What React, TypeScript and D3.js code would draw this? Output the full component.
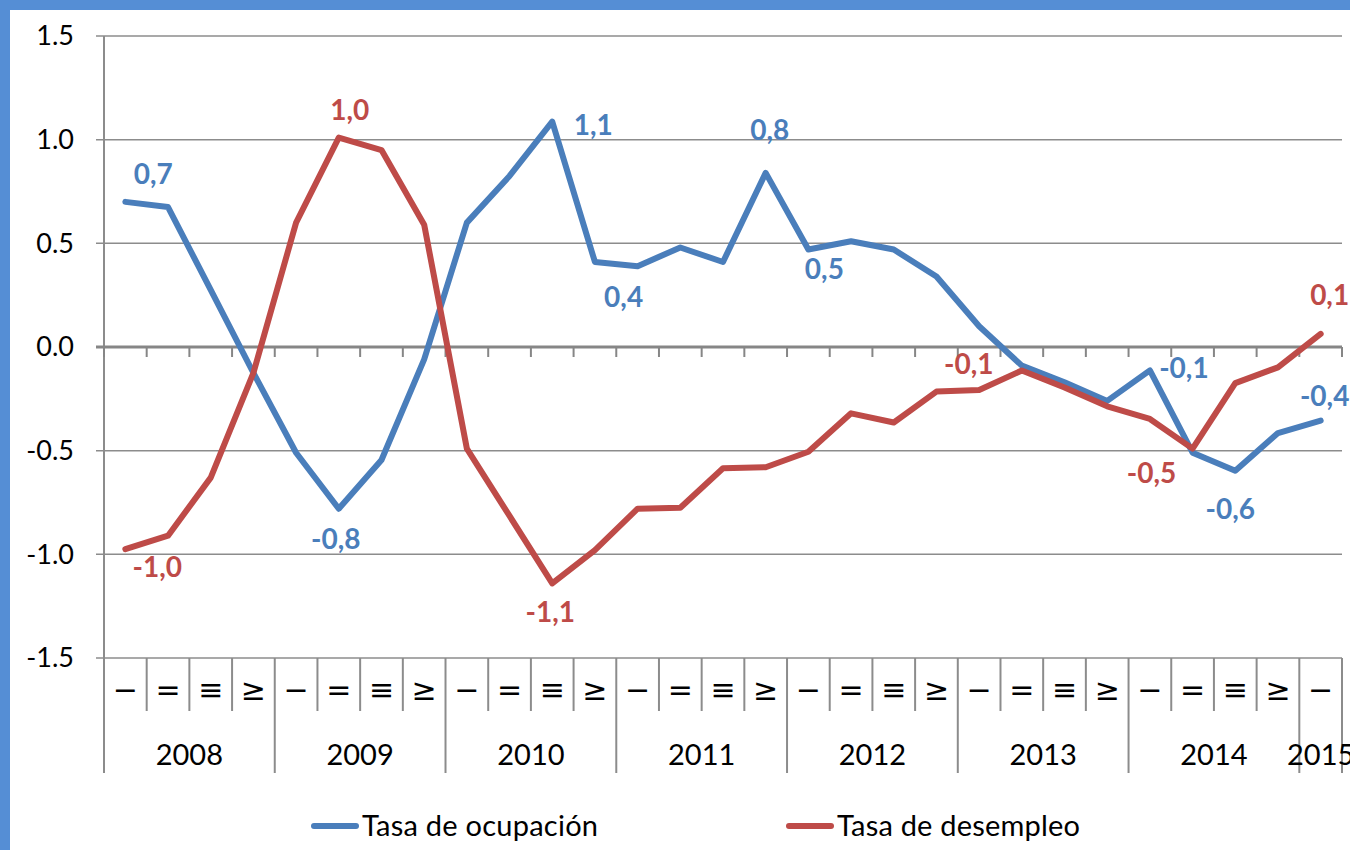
import * as React from 'react';
import * as d3 from 'd3';

const years = ['2008', '2009', '2010', '2011', '2012', '2013', '2014', '2015'];
const quarterMarks = ['−', '=', '≡', '≥'];
const yTicks = [1.5, 1.0, 0.5, 0.0, -0.5, -1.0, -1.5];

const ocupacion = [
  0.70, 0.675, 0.275, -0.125, -0.51, -0.78, -0.545, -0.06,
  0.60, 0.825, 1.087, 0.41, 0.39, 0.48, 0.41, 0.84,
  0.47, 0.51, 0.47, 0.34, 0.10, -0.09, -0.17, -0.26,
  -0.113, -0.51, -0.597, -0.415, -0.355,
];
const desempleo = [
  -0.975, -0.91, -0.63, -0.125, 0.60, 1.01, 0.95, 0.59,
  -0.49, -0.815, -1.14, -0.98, -0.78, -0.775, -0.585, -0.58,
  -0.505, -0.32, -0.364, -0.215, -0.207, -0.113, -0.195, -0.286,
  -0.347, -0.49, -0.174, -0.098, 0.063,
];

// which points get a value label, and where it sits relative to the point
const ocupacionLabels = [
  { i: 0, dx: 28, dy: -18 }, { i: 5, dx: -3, dy: 40 }, { i: 10, dx: 41, dy: 13 },
  { i: 12, dx: -14, dy: 41 }, { i: 15, dx: 4, dy: -33 }, { i: 16, dx: 16, dy: 29 },
  { i: 24, dx: 34, dy: 8 }, { i: 26, dx: -5, dy: 48 }, { i: 28, dx: 4, dy: -15 },
];
const desempleoLabels = [
  { i: 0, dx: 32, dy: 28 }, { i: 5, dx: 11, dy: -18 }, { i: 10, dx: -2, dy: 39 },
  { i: 21, dx: -53, dy: 4 }, { i: 25, dx: -41, dy: 34 }, { i: 28, dx: 9, dy: -29 },
];

const BLUE = '#4a7ebb';
const RED = '#be4b48';
const GRID = '#8c8c8c';
const FONT = "Lato, 'Open Sans', sans-serif";

const W = 1350, H = 850;
const left = 104, right = 1342, top = 36, bottom = 658;

const App = () => {
  const n = ocupacion.length;
  const idx = d3.range(n);
  const x = d3.scaleBand<number>().domain(idx).range([left, right]).padding(0);
  const bw = x.bandwidth();
  const cx = (i: number) => (x(i) as number) + bw / 2;
  const y = d3.scaleLinear().domain([-1.5, 1.5]).range([bottom, top]);

  const line = d3.line<number>().x((_, i) => cx(i)).y(d => y(d));
  const fmt = (v: number) => v.toFixed(1).replace('.', ',');

  const yearStarts = years.map((_, k) => k * 4);

  return (
    <svg width={W} height={H} style={{ position: 'absolute', left: 0, top: 0 }}>
      <rect x={0} y={0} width={W} height={H} fill="#558ed5" />
      <rect x={10} y={10} width={W} height={H} fill="#ffffff" />

      {/* grid */}
      {yTicks.filter(t => t !== 0).map(t => (
        <line key={t} x1={left - 8} x2={right} y1={y(t)} y2={y(t)} stroke={GRID} strokeWidth={1.5} />
      ))}
      {yTicks.map(t => (
        <text key={'l' + t} x={74} y={y(t)} dy="0.35em" textAnchor="end"
          fontFamily={FONT} fontSize={27} fill="#000">
          {t.toFixed(1)}
        </text>
      ))}
      <line x1={left} x2={left} y1={top} y2={773} stroke={GRID} strokeWidth={2} />

      {/* zero axis with ticks */}
      <line x1={left - 8} x2={right} y1={y(0)} y2={y(0)} stroke="#868686" strokeWidth={3} />
      {d3.range(n + 1).map(k => (
        <line key={'t' + k} x1={left + k * bw} x2={left + k * bw} y1={y(0)} y2={y(0) + 10}
          stroke="#868686" strokeWidth={2} />
      ))}

      {/* category separators below plot */}
      {d3.range(n + 1).map(k => (
        <line key={'s' + k} x1={left + k * bw} x2={left + k * bw} y1={bottom}
          y2={k % 4 === 0 || k === n ? 773 : 711} stroke={GRID} strokeWidth={2} />
      ))}
      {idx.map(i => (
        <text key={'q' + i} x={cx(i)} y={700} textAnchor="middle"
          fontFamily="'DejaVu Sans', sans-serif" fontSize={30} fill="#000">
          {quarterMarks[i % 4]}
        </text>
      ))}
      {years.map((yr, k) => {
        const s = yearStarts[k];
        const e = Math.min(s + 4, n);
        return (
          <text key={yr} x={left + ((s + e) / 2) * bw} y={765} textAnchor="middle"
            fontFamily={FONT} fontSize={29} fill="#000">
            {yr}
          </text>
        );
      })}

      {/* series */}
      <path d={line(ocupacion) as string} fill="none" stroke={BLUE} strokeWidth={6}
        strokeLinejoin="round" strokeLinecap="round" />
      <path d={line(desempleo) as string} fill="none" stroke={RED} strokeWidth={6}
        strokeLinejoin="round" strokeLinecap="round" />

      {ocupacionLabels.map(l => (
        <text key={'ob' + l.i} x={cx(l.i) + l.dx} y={y(ocupacion[l.i]) + l.dy} textAnchor="middle"
          fontFamily={FONT} fontWeight="bold" fontSize={28} fill={BLUE}>
          {fmt(ocupacion[l.i])}
        </text>
      ))}
      {desempleoLabels.map(l => (
        <text key={'de' + l.i} x={cx(l.i) + l.dx} y={y(desempleo[l.i]) + l.dy} textAnchor="middle"
          fontFamily={FONT} fontWeight="bold" fontSize={28} fill={RED}>
          {fmt(desempleo[l.i])}
        </text>
      ))}

      {/* legend */}
      <line x1={314} x2={356} y1={826} y2={826} stroke={BLUE} strokeWidth={6} strokeLinecap="round" />
      <text x={362} y={836} fontFamily={FONT} fontSize={29} textLength={236} fill="#000">
        Tasa de ocupación
      </text>
      <line x1={789} x2={831} y1={826} y2={826} stroke={RED} strokeWidth={6} strokeLinecap="round" />
      <text x={837} y={836} fontFamily={FONT} fontSize={29} textLength={243} fill="#000">
        Tasa de desempleo
      </text>
    </svg>
  );
};

export default App;
